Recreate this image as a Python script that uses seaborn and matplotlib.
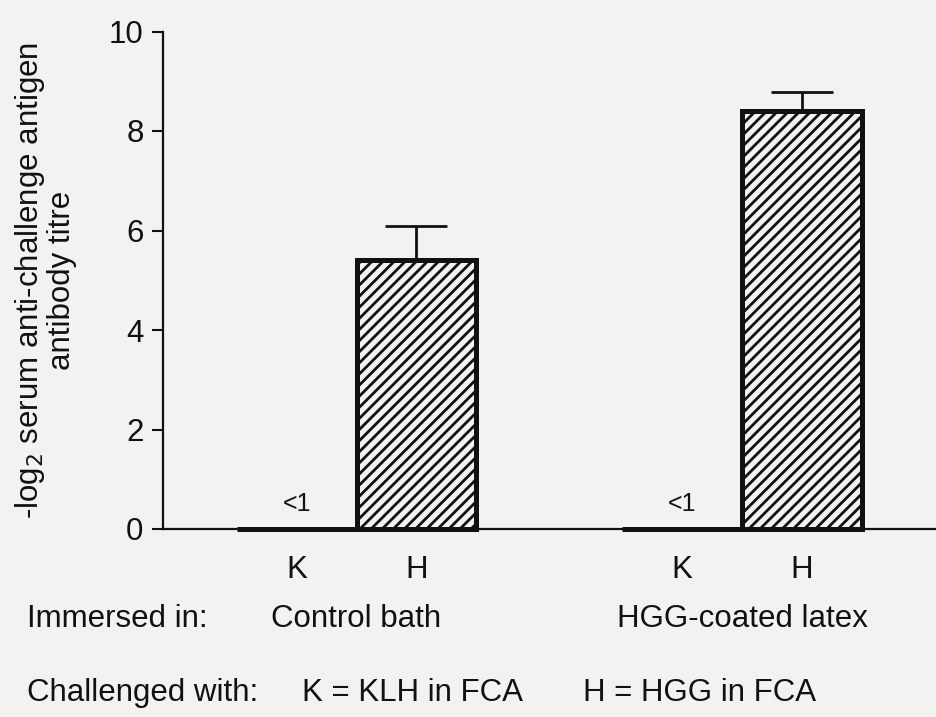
import matplotlib
matplotlib.use("Agg")
import matplotlib.pyplot as plt
import seaborn as sns
import pandas as pd
import numpy as np
from matplotlib.transforms import blended_transform_factory

# ---- data ----
groups = ["Control bath", "HGG-coated latex"]
challenges = ["K", "H"]
bar_group = ["Control bath", "Control bath", "HGG-coated latex", "HGG-coated latex"]
bar_challenge = ["K", "H", "K", "H"]
titre = [0.0, 5.4, 0.0, 8.4]
sem = [0.0, 0.7, 0.0, 0.38]
bar_notes = ["<1", "", "<1", ""]
yticks = [0, 2, 4, 6, 8, 10]
ylabel = "-log$_2$ serum anti-challenge antigen\nantibody titre"
row_immersed = "Immersed in:"
row_challenged = "Challenged with:"
legend_k = "K = KLH in FCA"
legend_h = "H = HGG in FCA"

df = pd.DataFrame({"group": bar_group, "challenge": bar_challenge,
                   "titre": titre, "sem": sem, "note": bar_notes})

paper = "#f2f2f0"
ink = "#111111"
FS = 22.5

sns.set_style("ticks")
plt.rcParams["font.family"] = ["Liberation Sans", "DejaVu Sans"]
plt.rcParams["hatch.linewidth"] = 2.0
plt.rcParams["hatch.color"] = ink

W, H = 936, 717
fig = plt.figure(figsize=(W / 100, H / 100), dpi=100, facecolor=paper)
ax = fig.add_axes([163 / W, 1 - 529 / H, 1 - 163 / W, (529 - 31.5) / H])
ax.set_facecolor(paper)

sns.barplot(data=df, x="group", y="titre", hue="challenge", order=groups,
            hue_order=challenges, palette={"K": paper, "H": paper},
            saturation=1, width=0.622, dodge=True, errorbar=None,
            edgecolor=ink, linewidth=3.6, legend=False, ax=ax)

# hatch the H bars, keep patches unclipped so zero-height K bars show as thick lines
centers = {}
for cont, lev in zip(ax.containers, challenges):
    for patch, g in zip(cont.patches, groups):
        patch.set_clip_on(False)
        if lev == "H":
            patch.set_hatch("///")
        centers[(g, lev)] = patch.get_x() + patch.get_width() / 2

df["xpos"] = [centers[(g, c)] for g, c in zip(df["group"], df["challenge"])]

# upward-only error bars
m = df["sem"] > 0
ax.errorbar(df.loc[m, "xpos"], df.loc[m, "titre"],
            yerr=[np.zeros(m.sum()), df.loc[m, "sem"]], fmt="none",
            ecolor=ink, elinewidth=2.0, capsize=22, capthick=2.0, zorder=1)

# "<1" notes
for _, r in df.iterrows():
    if r["note"]:
        ax.text(r["xpos"], r["titre"] + 0.26, r["note"], ha="center",
                va="bottom", fontsize=18, color=ink)

ax.set_ylim(0, 10)
ax.set_xlim(-0.502, 1.503)
ax.set_yticks(yticks)
ax.set_yticklabels([str(t) for t in yticks], fontsize=FS, color=ink)
ax.set_xticks(list(df["xpos"]))
ax.set_xticklabels(list(df["challenge"]), fontsize=FS, color=ink)
ax.tick_params(axis="y", direction="out", length=8, width=1.5, pad=6, colors=ink)
ax.tick_params(axis="x", length=0, pad=18.5, colors=ink)
ax.set_xlabel("")
ax.set_ylabel(ylabel, fontsize=FS, color=ink, linespacing=1.0)
ax.yaxis.set_label_coords(-0.111, 0.5)

sns.despine(ax=ax)
for s in ("left", "bottom"):
    ax.spines[s].set_linewidth(1.6)
    ax.spines[s].set_color(ink)

# group labels under each group
tr = blended_transform_factory(ax.transData, fig.transFigure)
for i, g in enumerate(groups):
    ax.text(i, 1 - 619 / H, g, transform=tr, ha="center", va="center",
            fontsize=FS, color=ink)

fig.text(27 / W, 1 - 619 / H, row_immersed, ha="left", va="center",
         fontsize=FS, color=ink)
fig.text(27 / W, 1 - 693 / H, row_challenged, ha="left", va="center",
         fontsize=FS, color=ink)
fig.text(302 / W, 1 - 693 / H, legend_k, ha="left", va="center",
         fontsize=FS, color=ink)
fig.text(583 / W, 1 - 693 / H, legend_h, ha="left", va="center",
         fontsize=FS, color=ink)

fig.savefig("out.png", dpi=100, facecolor=paper)
